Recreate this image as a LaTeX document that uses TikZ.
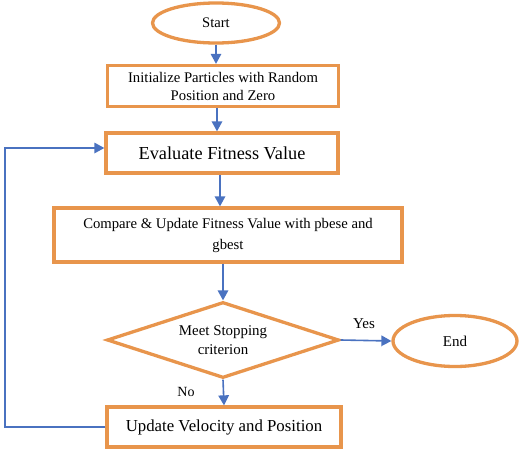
\documentclass[tikz,border=0pt]{standalone}
\usepackage{fontspec}
\setmainfont{Liberation Serif}
\usetikzlibrary{shapes.geometric,arrows.meta}
\definecolor{orng}{HTML}{E8954C}
\definecolor{blu}{HTML}{4A72C0}
\tikzset{
  box/.style={draw=orng,line width=3.3pt,fill=white,inner sep=0pt,align=center},
  oval/.style={ellipse,draw=orng,line width=3.3pt,fill=white,inner sep=0pt},
  dia/.style={diamond,draw=orng,line width=3.3pt,fill=white,inner sep=0pt,aspect=3,align=center},
  arr/.style={draw=blu,line width=1.6pt,-{Triangle[length=10pt,width=10.5pt]}},
}
\begin{document}
\begin{tikzpicture}[x=1pt,y=-1pt]
\useasboundingbox (0,0) rectangle (520,450);
\node[oval,minimum width=127pt,minimum height=40pt,font=\fontsize{14.6}{17}\selectfont] (start) at (216,23) {Start};
\node[box,minimum width=231pt,minimum height=41pt,font=\fontsize{14.7}{18}\selectfont] (init) at (223,86) {Initialize Particles with Random\\Position and Zero};
\node[box,minimum width=232pt,minimum height=40pt,font=\fontsize{18.3}{21}\selectfont] (eval) at (222,153) {Evaluate Fitness Value};
\node[box,minimum width=348pt,minimum height=54pt,font=\fontsize{14.7}{21}\selectfont] (cmp) at (228,235) {\raisebox{-3pt}{Compare \& Update Fitness Value with pbese and}\\\raisebox{-3pt}{gbest}};
\node[dia,minimum width=232pt,minimum height=76pt,font=\fontsize{14.9}{19}\selectfont] (dec) at (223,340) {\raisebox{-3pt}{Meet Stopping}\\\raisebox{-3pt}{criterion}};
\node[oval,minimum width=124pt,minimum height=51pt,font=\fontsize{15}{17}\selectfont] (end) at (455,341) {End};
\node[box,minimum width=234pt,minimum height=40pt,font=\fontsize{16.8}{19}\selectfont] (upd) at (224,427) {Update Velocity and Position};
\coordinate (c1) at (5,427);
\coordinate (c2) at (5,148);
\draw[arr] (start.south) -- (start.south |- init.north);
\draw[arr] (init.south -| 217,0) -- (217,0 |- eval.north);
\draw[arr] (eval.south -| 220,0) -- (220,0 |- cmp.north);
\draw[arr] (cmp.south -| dec.north) -- (dec.north);
\draw[arr] (dec.east) -- (end.west);
\node[font=\fontsize{15}{17}\selectfont] (yes) at (364,324) {Yes};
\draw[arr] (dec.south) -- (upd.north);
\node[font=\fontsize{14}{16}\selectfont] (no) at (186,392) {No};
\draw[arr] (upd.west) -- (c1) -- (c2) -- (c2 -| eval.west);
\end{tikzpicture}
\end{document}
